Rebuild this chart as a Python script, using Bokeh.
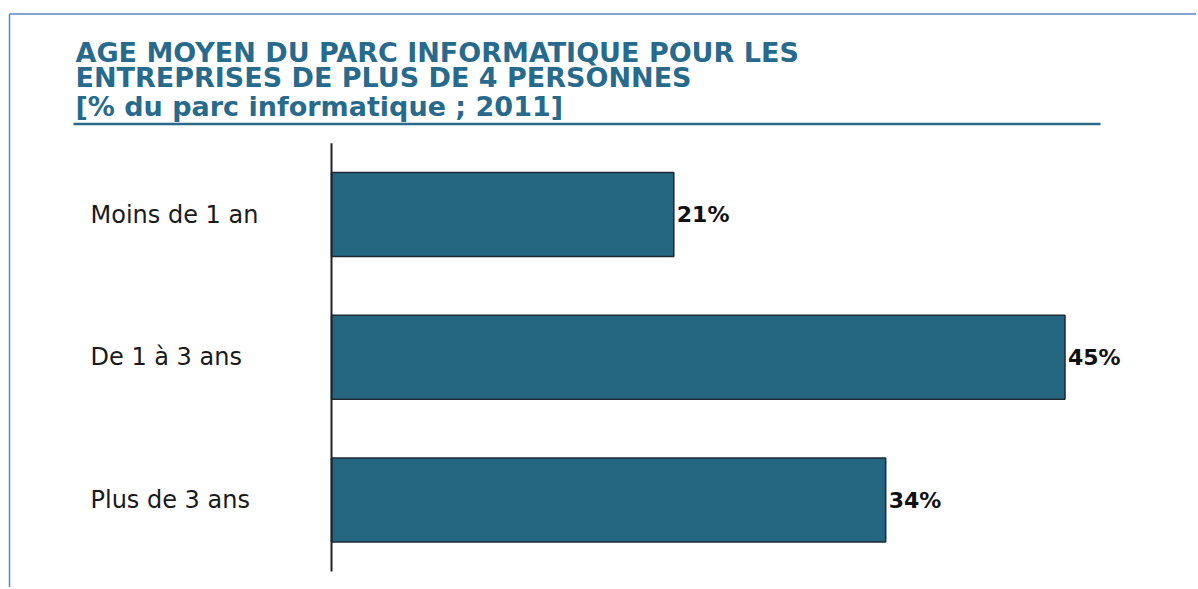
from bokeh.plotting import figure
from bokeh.models import Range1d, ColumnDataSource
from bokeh.core.properties import value
from bokeh.embed import file_html
from bokeh.resources import INLINE

# ---- data ----
categories = ["Moins de 1 an", "De 1 à 3 ans", "Plus de 3 ans"]
values = [21, 45, 34]
value_labels = ["21%", "45%", "34%"]
title_lines = [
    "AGE MOYEN DU PARC  INFORMATIQUE POUR LES",
    "ENTREPRISES DE PLUS DE 4 PERSONNES",
    "[% du  parc informatique  ;  2011]",
]

# ---- layout (canvas == frame) ----
W, H = 1196, 587
OFF = 0          # canvas origin on the page
SX = 16.3        # px per percent
X0 = -331 / SX   # data x at the left edge of the canvas (axis at px 331)
SY = 142.75      # px per category step
Y0 = -(H - 499.5) / SY  # bottom category centre at px 499.5

def dx(px):
    return X0 + (px - OFF) / SX

def dy(py):
    return Y0 + (H - (py - OFF)) / SY

n = len(categories)
ypos = [n - 1 - i for i in range(n)]  # first category on top

p = figure(width=W, height=H, output_backend="svg", toolbar_location=None,
           x_range=Range1d(X0, X0 + W / SX), y_range=Range1d(Y0, Y0 + H / SY),
           x_axis_location=None, y_axis_location=None,
           min_border=0, min_border_left=0, min_border_right=0,
           min_border_top=0, min_border_bottom=0)
p.outline_line_color = None
p.xgrid.visible = False
p.ygrid.visible = False
p.background_fill_color = "white"
p.border_fill_color = "white"

# outer light-blue frame (top and left visible)
p.segment(x0=[dx(9), dx(9)], y0=[dy(13.5), dy(13.5)],
          x1=[dx(1300), dx(9)], y1=[dy(13.5), dy(700)],
          line_color="#5b87c6", line_width=1.5)

# title
title_y = [52, 77, 106]
p.text(x=[dx(75)] * 3, y=[dy(v) for v in title_y], text=title_lines,
       text_font=value("DejaVu Sans"), text_font_style="bold",
       text_font_size="27px", text_color="#286a8b", text_baseline="alphabetic")

# rule under the title
p.segment(x0=[dx(73)], y0=[dy(123.5)], x1=[dx(1100)], y1=[dy(123.5)],
          line_color="#2a6a8a", line_width=2.5)

src = ColumnDataSource(dict(y=ypos, v=values, cat=categories, lab=value_labels,
                            lx=[dx(90)] * n))

# bars
p.hbar(y="y", left=0, right="v", height=0.59, source=src,
       fill_color="#246680", line_color="#1e2a30", line_width=1.5)

# vertical axis line
p.segment(x0=[0], y0=[-0.5], x1=[0], y1=[n - 0.5], line_color="#222222", line_width=2)

# category labels
p.text(x="lx", y="y", text="cat", source=src,
       text_font=value("DejaVu Sans"), text_font_size="24px",
       text_color="#1a1a1a", text_baseline="middle", text_align="left")

# value labels
p.text(x="v", y="y", text="lab", source=src, x_offset=3,
       text_font=value("DejaVu Sans"), text_font_style="bold", text_font_size="22px",
       text_color="#111111", text_baseline="middle", text_align="left")

open("out.html", "w").write(file_html(p, INLINE))
